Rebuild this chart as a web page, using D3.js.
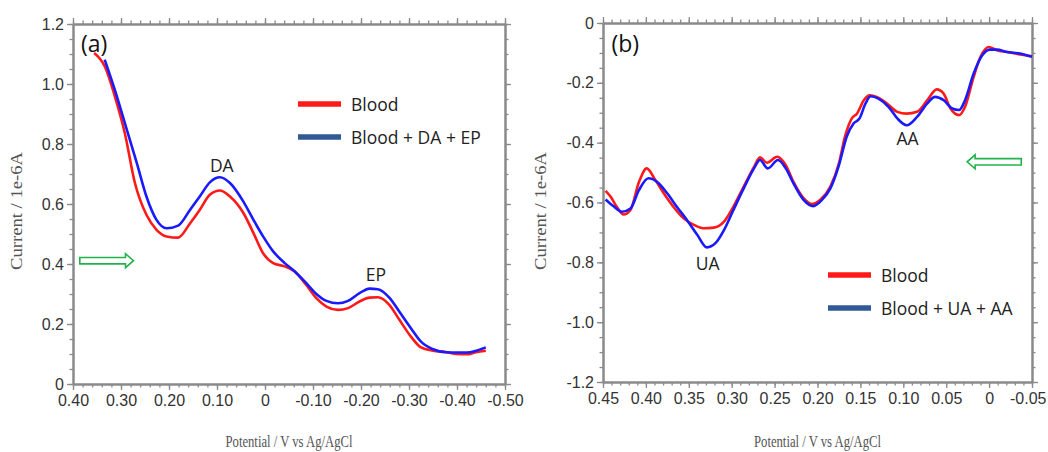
<!DOCTYPE html>
<html>
<head>
<meta charset="utf-8">
<script src="https://cdn.jsdelivr.net/npm/d3@7"></script>
<style>
  html, body { margin: 0; padding: 0; background: #fff; }
  svg { display: block; }
</style>
</head>
<body>
<svg id="chart" width="1048" height="452"></svg>
<script>
// ---------------- Panel (a) data ----------------
const aBloodX = [0.356, 0.334, 0.313, 0.292, 0.271, 0.247, 0.226, 0.205, 0.181, 0.156, 0.136, 0.115, 0.094, 0.073, 0.045, 0.024, 0.004, -0.017, -0.041, -0.062, -0.086, -0.107, -0.128, -0.152, -0.173, -0.197, -0.218, -0.235, -0.259, -0.280, -0.304, -0.325, -0.350, -0.378, -0.399, -0.420, -0.440, -0.460];
const aBloodY = [1.103, 1.059, 0.960, 0.836, 0.670, 0.564, 0.514, 0.492, 0.488, 0.536, 0.580, 0.631, 0.645, 0.625, 0.570, 0.503, 0.436, 0.403, 0.392, 0.375, 0.330, 0.286, 0.258, 0.247, 0.253, 0.275, 0.288, 0.289, 0.264, 0.214, 0.158, 0.122, 0.111, 0.106, 0.100, 0.099, 0.106, 0.111];
const aMixX = [0.334, 0.313, 0.292, 0.267, 0.247, 0.226, 0.205, 0.181, 0.156, 0.136, 0.115, 0.094, 0.073, 0.045, 0.024, 0.004, -0.017, -0.041, -0.062, -0.086, -0.107, -0.128, -0.152, -0.173, -0.197, -0.218, -0.235, -0.259, -0.280, -0.304, -0.325, -0.350, -0.378, -0.399, -0.420, -0.440, -0.460];
const aMixY = [1.081, 0.981, 0.870, 0.736, 0.625, 0.547, 0.519, 0.528, 0.581, 0.625, 0.672, 0.689, 0.670, 0.608, 0.547, 0.492, 0.442, 0.403, 0.375, 0.336, 0.300, 0.277, 0.269, 0.277, 0.303, 0.318, 0.316, 0.288, 0.241, 0.186, 0.141, 0.116, 0.106, 0.105, 0.105, 0.111, 0.122];
const aXTicks = [0.40, 0.30, 0.20, 0.10, 0, -0.10, -0.20, -0.30, -0.40, -0.50];
const aYTicks = [0, 0.2, 0.4, 0.6, 0.8, 1.0, 1.2];
const aSeriesNames = ["Blood", "Blood + DA + EP"];
const aPeakLabels = ["DA", "EP"];
const aPeakX = [0.090, -0.231];
const aPeakY = [0.73, 0.367];

// ---------------- Panel (b) data ----------------
const bBloodX = [0.447, 0.441, 0.434, 0.426, 0.418, 0.408, 0.399, 0.389, 0.379, 0.368, 0.356, 0.344, 0.333, 0.321, 0.309, 0.298, 0.286, 0.274, 0.267, 0.259, 0.247, 0.237, 0.228, 0.216, 0.206, 0.197, 0.185, 0.175, 0.168, 0.160, 0.154, 0.146, 0.139, 0.131, 0.119, 0.107, 0.096, 0.084, 0.072, 0.061, 0.053, 0.045, 0.035, 0.028, 0.018, 0.010, 0.0005, -0.009, -0.021, -0.036, -0.050];
const bBloodY = [-0.561, -0.581, -0.614, -0.640, -0.625, -0.531, -0.486, -0.525, -0.570, -0.614, -0.653, -0.675, -0.686, -0.684, -0.664, -0.614, -0.547, -0.481, -0.449, -0.467, -0.447, -0.475, -0.531, -0.586, -0.605, -0.592, -0.547, -0.469, -0.380, -0.319, -0.303, -0.258, -0.242, -0.247, -0.269, -0.297, -0.303, -0.297, -0.258, -0.222, -0.236, -0.286, -0.308, -0.280, -0.180, -0.113, -0.080, -0.091, -0.097, -0.105, -0.111];
const bMixX = [0.447, 0.438, 0.428, 0.418, 0.408, 0.397, 0.387, 0.375, 0.364, 0.352, 0.340, 0.329, 0.319, 0.309, 0.298, 0.286, 0.274, 0.267, 0.258, 0.246, 0.237, 0.228, 0.216, 0.205, 0.195, 0.185, 0.175, 0.166, 0.158, 0.151, 0.144, 0.138, 0.129, 0.117, 0.107, 0.096, 0.084, 0.072, 0.063, 0.053, 0.043, 0.035, 0.028, 0.018, 0.008, -0.001, -0.009, -0.021, -0.036, -0.050];
const bMixY = [-0.590, -0.612, -0.631, -0.620, -0.558, -0.519, -0.531, -0.570, -0.614, -0.659, -0.709, -0.750, -0.736, -0.692, -0.625, -0.553, -0.486, -0.458, -0.486, -0.458, -0.486, -0.536, -0.592, -0.612, -0.592, -0.553, -0.475, -0.380, -0.336, -0.319, -0.269, -0.245, -0.253, -0.281, -0.319, -0.342, -0.314, -0.269, -0.247, -0.258, -0.286, -0.291, -0.258, -0.169, -0.108, -0.089, -0.089, -0.097, -0.102, -0.113];
const bXTicks = [0.45, 0.40, 0.35, 0.30, 0.25, 0.20, 0.15, 0.10, 0.05, 0, -0.05];
const bYTicks = [0, -0.2, -0.4, -0.6, -0.8, -1.0, -1.2];
const bSeriesNames = ["Blood", "Blood + UA + AA"];
const bPeakLabels = ["UA", "AA"];
const bPeakX = [0.328, 0.095];
const bPeakY = [-0.801, -0.384];

const xTitle = "Potential / V vs Ag/AgCl";
const yTitle = "Current / 1e-6A";

// ---------------- drawing ----------------
const svg = d3.select("#chart");
const RED = "#ff1a1a", BLUE = "#1a1aff", LEG_BLUE = "#2f5a96", GREEN = "#22b24c";
const AXIS = "#8a8a8a";

function zeroFmt(d, digits) {
  if (Math.abs(d) < 1e-9) return "0";
  return (d < 0 ? "-" : "") + Math.abs(d).toFixed(digits);
}

function drawPanel(cfg) {
  const g = svg.append("g");
  const x = d3.scaleLinear().domain(cfg.xDomain).range([cfg.left, cfg.right]);
  const y = d3.scaleLinear().domain(cfg.yDomain).range([cfg.bottom, cfg.top]);

  const minorX = d3.range(Math.round(cfg.xDomain[1] / cfg.xMinor), Math.round(cfg.xDomain[0] / cfg.xMinor) + 1)
    .map(i => i * cfg.xMinor);
  const minorY = d3.range(Math.round(d3.min(cfg.yDomain) / cfg.yMinor), Math.round(d3.max(cfg.yDomain) / cfg.yMinor) + 1)
    .map(i => i * cfg.yMinor);

  function styleAxis(sel) {
    sel.selectAll(".domain").attr("stroke", AXIS).attr("stroke-width", 2);
    sel.selectAll(".tick line").attr("stroke", AXIS).attr("stroke-width", 1.3);
    sel.selectAll(".tick text")
      .attr("fill", "#333")
      .style("font-family", "'Liberation Sans Narrow', 'Arial Narrow', 'Liberation Sans', Arial, sans-serif")
      .style("font-size", "16px");
  }

  const sides = [
    [d3.axisBottom(x), cfg.bottom, "x", minorX],
    [d3.axisTop(x), cfg.top, "x", minorX],
    [d3.axisLeft(y), cfg.left, "y", minorY],
    [d3.axisRight(y), cfg.right, "y", minorY]
  ];
  sides.forEach(([ax, pos, dir, vals]) => {
    const s = g.append("g")
      .attr("transform", dir === "x" ? `translate(0,${pos})` : `translate(${pos},0)`)
      .call(ax.tickValues(vals).tickSize(3.5).tickFormat("").tickSizeOuter(0));
    styleAxis(s);
  });

  const bx = g.append("g").attr("transform", `translate(0,${cfg.bottom})`)
    .call(d3.axisBottom(x).tickValues(cfg.xTicks).tickSize(6).tickPadding(5).tickSizeOuter(0)
      .tickFormat(d => zeroFmt(d, 2)));
  styleAxis(bx);
  bx.selectAll(".tick text").attr("dy", "0.71em");
  if (cfg.lastLabelEnd) {
    // keep the rightmost label inside the picture
    bx.selectAll(".tick text").filter(d => d === cfg.xTicks[cfg.xTicks.length - 1])
      .attr("text-anchor", "end").attr("x", cfg.lastLabelEnd);
  }
  const tx = g.append("g").attr("transform", `translate(0,${cfg.top})`)
    .call(d3.axisTop(x).tickValues(cfg.xTicks).tickSize(6).tickFormat("").tickSizeOuter(0));
  styleAxis(tx);
  const ly = g.append("g").attr("transform", `translate(${cfg.left},0)`)
    .call(d3.axisLeft(y).tickValues(cfg.yTicks).tickSize(6).tickPadding(3).tickSizeOuter(0)
      .tickFormat(d => zeroFmt(d, 1)));
  styleAxis(ly);
  const ry = g.append("g").attr("transform", `translate(${cfg.right},0)`)
    .call(d3.axisRight(y).tickValues(cfg.yTicks).tickSize(6).tickFormat("").tickSizeOuter(0));
  styleAxis(ry);

  const line = d3.line().x(d => x(d[0])).y(d => y(d[1])).curve(d3.curveMonotoneX);
  const series = [
    { xs: cfg.redX, ys: cfg.redY, color: RED },
    { xs: cfg.blueX, ys: cfg.blueY, color: BLUE }
  ];
  series.forEach(s => {
    g.append("path")
      .datum(s.xs.map((v, i) => [v, s.ys[i]]))
      .attr("fill", "none")
      .attr("stroke", s.color)
      .attr("stroke-width", 2.6)
      .attr("stroke-linejoin", "round")
      .attr("d", line);
  });

  g.append("text").attr("x", x(cfg.tagX)).attr("y", y(cfg.tagY))
    .attr("text-anchor", "middle").attr("dominant-baseline", "central")
    .style("font-family", "'Open Sans', 'Noto Sans', sans-serif").style("font-size", "23px")
    .attr("fill", "#111").text(cfg.tag);

  cfg.peakLabels.forEach((t, i) => {
    g.append("text").attr("x", x(cfg.peakX[i])).attr("y", y(cfg.peakY[i]))
      .attr("text-anchor", "middle").attr("dominant-baseline", "central")
      .style("font-family", "'Open Sans', 'Noto Sans', sans-serif").style("font-size", "17.5px")
      .attr("fill", "#222").text(t);
  });

  const leg = g.append("g");
  const legColors = [RED, LEG_BLUE];
  cfg.names.forEach((n, i) => {
    const yy = cfg.legY + i * cfg.legGap;
    leg.append("line").attr("x1", cfg.legX).attr("x2", cfg.legX + 43)
      .attr("y1", yy).attr("y2", yy)
      .attr("stroke", legColors[i]).attr("stroke-width", 5.5);
    leg.append("text").attr("x", cfg.legX + 53).attr("y", yy)
      .attr("dominant-baseline", "central")
      .style("font-family", "'Open Sans', 'Noto Sans', sans-serif").style("font-size", "17.5px")
      .attr("fill", "#222").text(n);
  });

  const ax0 = x(cfg.arrowFrom[0]), ax1 = x(cfg.arrowTo[0]), ay = y(cfg.arrowFrom[1]);
  const dirn = Math.sign(ax1 - ax0), hl = 8, sh = 3.2, hh = 7;
  const hb = ax1 - dirn * hl;
  const pts = [[ax0, ay - sh], [hb, ay - sh], [hb, ay - hh], [ax1, ay], [hb, ay + hh], [hb, ay + sh], [ax0, ay + sh]];
  g.append("path").attr("d", "M" + pts.map(p => p.join(",")).join("L") + "Z")
    .attr("fill", "#fff").attr("stroke", GREEN).attr("stroke-width", 1.6).attr("stroke-linejoin", "miter");

  g.append("text")
    .attr("x", (cfg.left + cfg.right) / 2).attr("y", 447)
    .attr("text-anchor", "middle")
    .attr("textLength", 127).attr("lengthAdjust", "spacingAndGlyphs")
    .style("font-family", "'Liberation Serif', 'Times New Roman', serif").style("font-size", "17px")
    .attr("fill", "#555").text(xTitle);
  g.append("text")
    .attr("transform", `translate(${cfg.yTitleX},211) rotate(-90)`)
    .attr("text-anchor", "middle")
    .attr("textLength", 118).attr("lengthAdjust", "spacingAndGlyphs")
    .style("font-family", "'Liberation Serif', 'Times New Roman', serif").style("font-size", "17px")
    .attr("fill", "#555").text(yTitle);
}

drawPanel({
  left: 73, right: 505, top: 24, bottom: 384,
  xDomain: [0.40, -0.50], yDomain: [0, 1.2], xMinor: 0.02, yMinor: 0.05,
  xTicks: aXTicks, yTicks: aYTicks,
  redX: aBloodX, redY: aBloodY, blueX: aMixX, blueY: aMixY,
  tag: "(a)", tagX: 0.356, tagY: 1.137,
  peakLabels: aPeakLabels, peakX: aPeakX, peakY: aPeakY,
  names: aSeriesNames, legX: 298, legY: 104, legGap: 33,
  arrowFrom: [0.3858, 0.411], arrowTo: [0.2740, 0.411],
  yTitleX: 22
});

drawPanel({
  left: 603, right: 1032, top: 23, bottom: 382,
  xDomain: [0.45, -0.05], yDomain: [-1.2, 0], xMinor: 0.01, yMinor: 0.05,
  xTicks: bXTicks, yTicks: bYTicks,
  redX: bBloodX, redY: bBloodY, blueX: bMixX, blueY: bMixY,
  tag: "(b)", tagX: 0.424, tagY: -0.068,
  peakLabels: bPeakLabels, peakX: bPeakX, peakY: bPeakY,
  names: bSeriesNames, legX: 828, legY: 275, legGap: 33,
  arrowFrom: [-0.0375, -0.464], arrowTo: [0.0256, -0.464],
  yTitleX: 546, lastLabelEnd: 14
});
</script>
</body>
</html>
